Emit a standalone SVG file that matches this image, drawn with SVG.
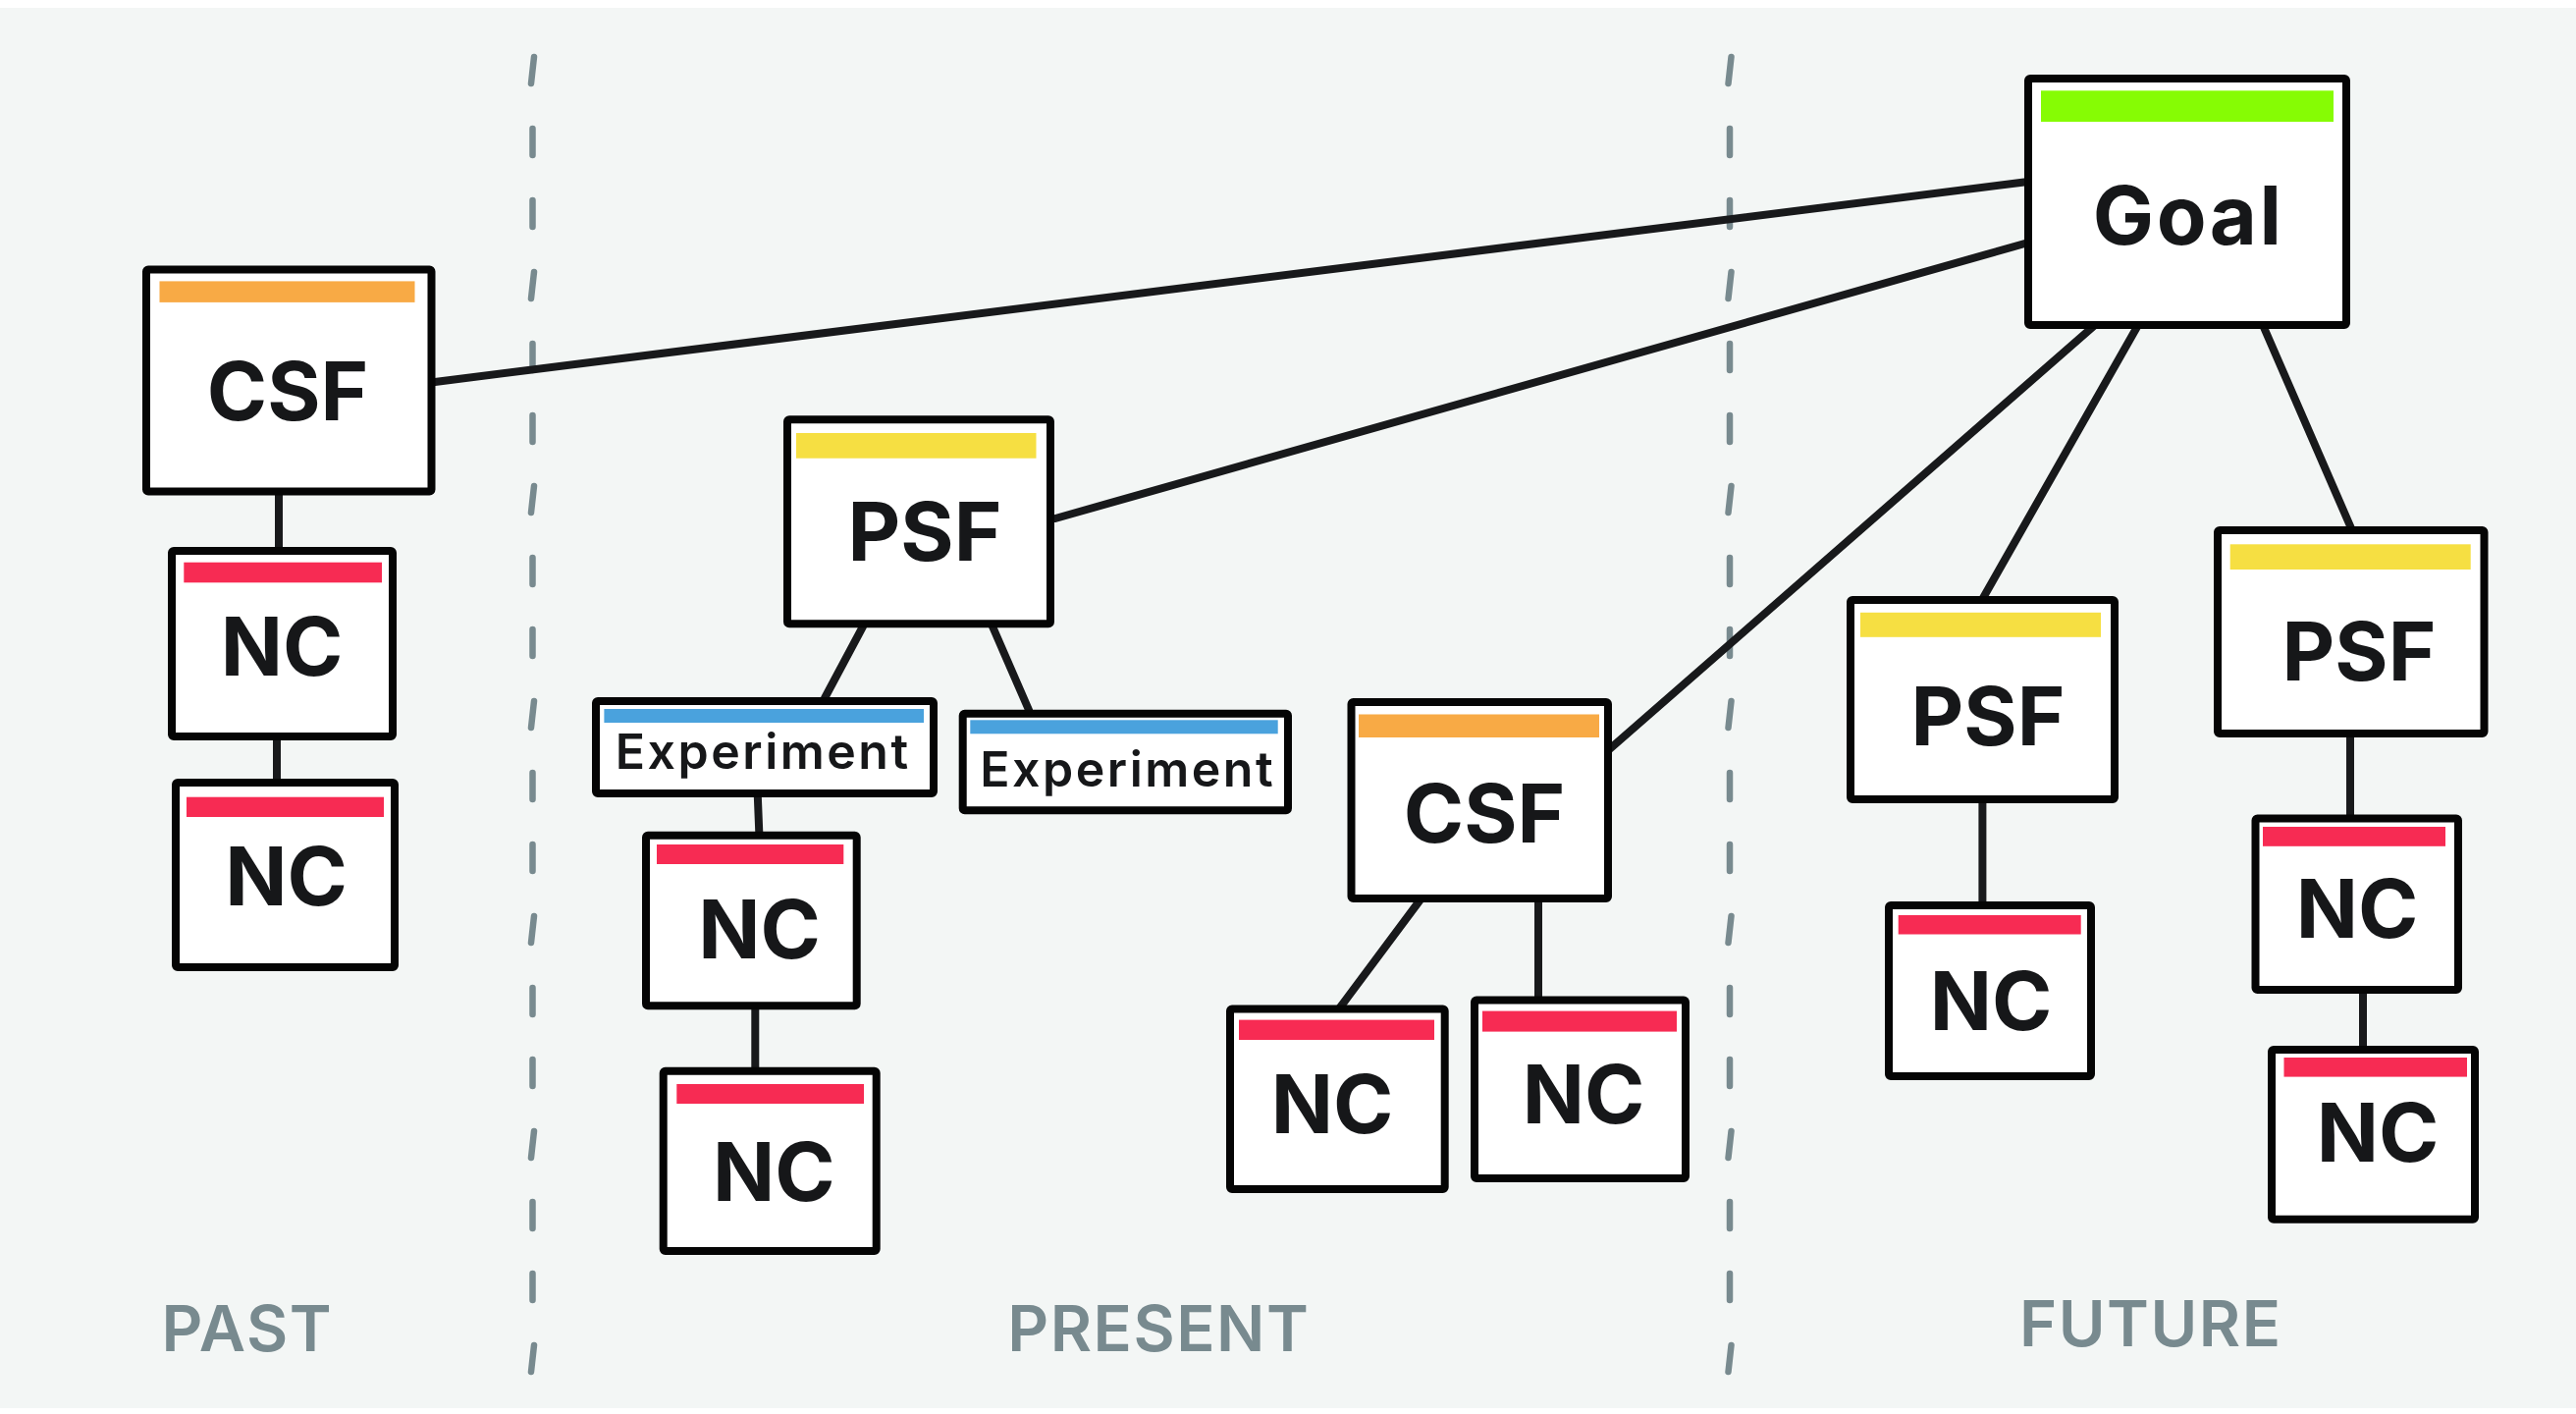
<svg xmlns="http://www.w3.org/2000/svg" width="2624" height="1440" viewBox="0 0 2624 1440">
<style>
.box{fill:#fff;stroke:#050505;stroke-width:8;stroke-linejoin:round}
.lbl{font-family:Inter,"Liberation Sans",sans-serif;font-weight:700;font-size:83px;fill:#161719;text-anchor:middle;letter-spacing:0px}
.wide{letter-spacing:2.5px}
.exp{font-family:Inter,"Liberation Sans",sans-serif;font-weight:600;font-size:50px;fill:#161719;text-anchor:middle;letter-spacing:2.5px}
.era{font-family:Inter,"Liberation Sans",sans-serif;font-weight:600;font-size:65px;fill:#788a8f;text-anchor:middle;letter-spacing:1.5px}
.con{stroke:#18191b;stroke-width:8;stroke-linecap:round;fill:none}
.dash{stroke:#788a8f;stroke-width:6.5;stroke-linecap:round;fill:none}
.or{fill:#f8aa45}.ye{fill:#f6df42}.rd{fill:#f72b53}.bl{fill:#4aa2dd}.gr{fill:#86fc04}
</style>
<rect x="0" y="0" width="2624" height="1440" fill="#ffffff"/>
<rect x="0" y="8" width="2624" height="1426" fill="#f3f6f5"/>
<g id="dividers">
<path class="dash" d="M544 58L541 85M542.5 131V158M542.5 204V231M544 277L541 304M542.5 350V377M542.5 423V450M544 495L541 522M542.5 568V595M542.5 641V668M544 714L541 741M542.5 787V814M542.5 860V887M544 933L541 960M542.5 1006V1033M542.5 1079V1106M544 1152L541 1179M542.5 1224V1251M542.5 1297V1324M544 1370L541 1397"/>
<path class="dash" d="M1763.5 58L1760.5 85M1762 131V158M1762 204V231M1763.5 277L1760.5 304M1762 350V377M1762 423V450M1763.5 495L1760.5 522M1762 568V595M1762 641V668M1763.5 714L1760.5 741M1762 787V814M1762 860V887M1763.5 933L1760.5 960M1762 1006V1033M1762 1079V1106M1763.5 1152L1760.5 1179M1762 1224V1251M1762 1297V1324M1763.5 1370L1760.5 1397"/>
</g>
<g id="connectors">
<line class="con" x1="443" y1="389" x2="2066" y2="185"/>
<line class="con" x1="1075" y1="528" x2="2066" y2="247"/>
<line class="con" x1="1636" y1="766" x2="2134" y2="331"/>
<line class="con" x1="2020" y1="609" x2="2178" y2="331"/>
<line class="con" x1="2395" y1="538" x2="2305" y2="331"/>
<line class="con" x1="284" y1="500" x2="284" y2="561"/>
<line class="con" x1="282" y1="750" x2="282" y2="797"/>
<line class="con" x1="879" y1="638" x2="840" y2="711"/>
<line class="con" x1="1011" y1="638" x2="1048" y2="723"/>
<line class="con" x1="771.7" y1="808" x2="773.3" y2="848"/>
<line class="con" x1="769.3" y1="1024" x2="769.3" y2="1087"/>
<line class="con" x1="1447" y1="916" x2="1365" y2="1026"/>
<line class="con" x1="1567" y1="915" x2="1567" y2="1015"/>
<line class="con" x1="2019.4" y1="814" x2="2019.4" y2="919"/>
<line class="con" x1="2394" y1="748" x2="2394" y2="830"/>
<line class="con" x1="2407" y1="1008" x2="2407" y2="1066"/>
</g>
<g id="csf-past">
<rect class="box" x="149" y="274.5" width="290.5" height="226" rx="2"/>
<rect class="or" x="162.5" y="286.4" width="260" height="21.5"/>
<text class="lbl" x="293" y="427.5">CSF</text>
</g>
<g id="nc-past-1">
<rect class="box" x="175" y="561" width="225" height="189" rx="2"/>
<rect class="rd" x="187.3" y="572.7" width="201.7" height="20.6"/>
<text class="lbl" x="287" y="688.3">NC</text>
</g>
<g id="nc-past-2">
<rect class="box" x="179" y="797" width="223" height="188" rx="2"/>
<rect class="rd" x="190" y="811.7" width="201" height="20.3"/>
<text class="lbl" x="291.7" y="922.3">NC</text>
</g>
<g id="psf-present">
<rect class="box" x="802" y="427.3" width="268" height="208" rx="2"/>
<rect class="ye" x="811" y="441" width="244.5" height="25.7"/>
<text class="lbl" x="942" y="570.7">PSF</text>
</g>
<g id="experiment-1">
<rect class="box" x="607" y="714" width="344" height="94" rx="2"/>
<rect class="bl" x="615.4" y="722" width="325.6" height="14"/>
<text class="exp" x="777.2" y="783.3">Experiment</text>
</g>
<g id="experiment-2">
<rect class="box" x="980.7" y="726.7" width="331.3" height="98.6" rx="2"/>
<rect class="bl" x="988.3" y="733.3" width="313.4" height="14"/>
<text class="exp" x="1148.7" y="800.7">Experiment</text>
</g>
<g id="nc-present-1">
<rect class="box" x="658" y="850.7" width="214.7" height="173.6" rx="2"/>
<rect class="rd" x="669" y="860" width="190.3" height="20"/>
<text class="lbl" x="773.5" y="976">NC</text>
</g>
<g id="nc-present-2">
<rect class="box" x="675.7" y="1090.7" width="217" height="183.3" rx="2"/>
<rect class="rd" x="689.3" y="1104" width="190.7" height="20"/>
<text class="lbl" x="788.3" y="1222.7">NC</text>
</g>
<g id="csf-present">
<rect class="box" x="1376.5" y="715" width="261.5" height="200" rx="2"/>
<rect class="or" x="1384" y="727.5" width="245" height="23.5"/>
<text class="lbl" x="1512" y="857.5">CSF</text>
</g>
<g id="nc-csf-left">
<rect class="box" x="1253" y="1027.6" width="218.7" height="183.4" rx="2"/>
<rect class="rd" x="1262" y="1038.6" width="199" height="20.4"/>
<text class="lbl" x="1357" y="1154">NC</text>
</g>
<g id="nc-csf-right">
<rect class="box" x="1502" y="1018.6" width="215" height="181.4" rx="2"/>
<rect class="rd" x="1510" y="1029.6" width="198" height="21"/>
<text class="lbl" x="1613" y="1144">NC</text>
</g>
<g id="goal">
<rect class="box" x="2066" y="80" width="324" height="251" rx="2"/>
<rect class="gr" x="2079" y="92.3" width="298" height="31.7"/>
<text class="lbl wide" x="2229.2" y="249">Goal</text>
</g>
<g id="psf-future-1">
<rect class="box" x="1885" y="611" width="269" height="203" rx="2"/>
<rect class="ye" x="1895" y="623.8" width="245" height="25"/>
<text class="lbl" x="2025" y="759">PSF</text>
</g>
<g id="nc-future-1">
<rect class="box" x="1924" y="922" width="206" height="174" rx="2"/>
<rect class="rd" x="1933.7" y="932" width="186" height="19.5"/>
<text class="lbl" x="2028" y="1048.8">NC</text>
</g>
<g id="psf-future-2">
<rect class="box" x="2259" y="540" width="271.5" height="207" rx="2"/>
<rect class="ye" x="2271.7" y="554.3" width="245" height="25.7"/>
<text class="lbl" x="2403" y="693">PSF</text>
</g>
<g id="nc-future-2">
<rect class="box" x="2297.5" y="833.6" width="206.5" height="174.4" rx="2"/>
<rect class="rd" x="2305" y="842" width="186" height="19.8"/>
<text class="lbl" x="2401" y="955">NC</text>
</g>
<g id="nc-future-3">
<rect class="box" x="2314" y="1069" width="207" height="172.7" rx="2"/>
<rect class="rd" x="2326.5" y="1077" width="186.5" height="19.6"/>
<text class="lbl" x="2422" y="1183">NC</text>
</g>
<g id="eras">
<text class="era" x="251.8" y="1376">PAST</text>
<text class="era" x="1180.3" y="1376">PRESENT</text>
<text class="era" x="2190.8" y="1371">FUTURE</text>
</g>
</svg>
